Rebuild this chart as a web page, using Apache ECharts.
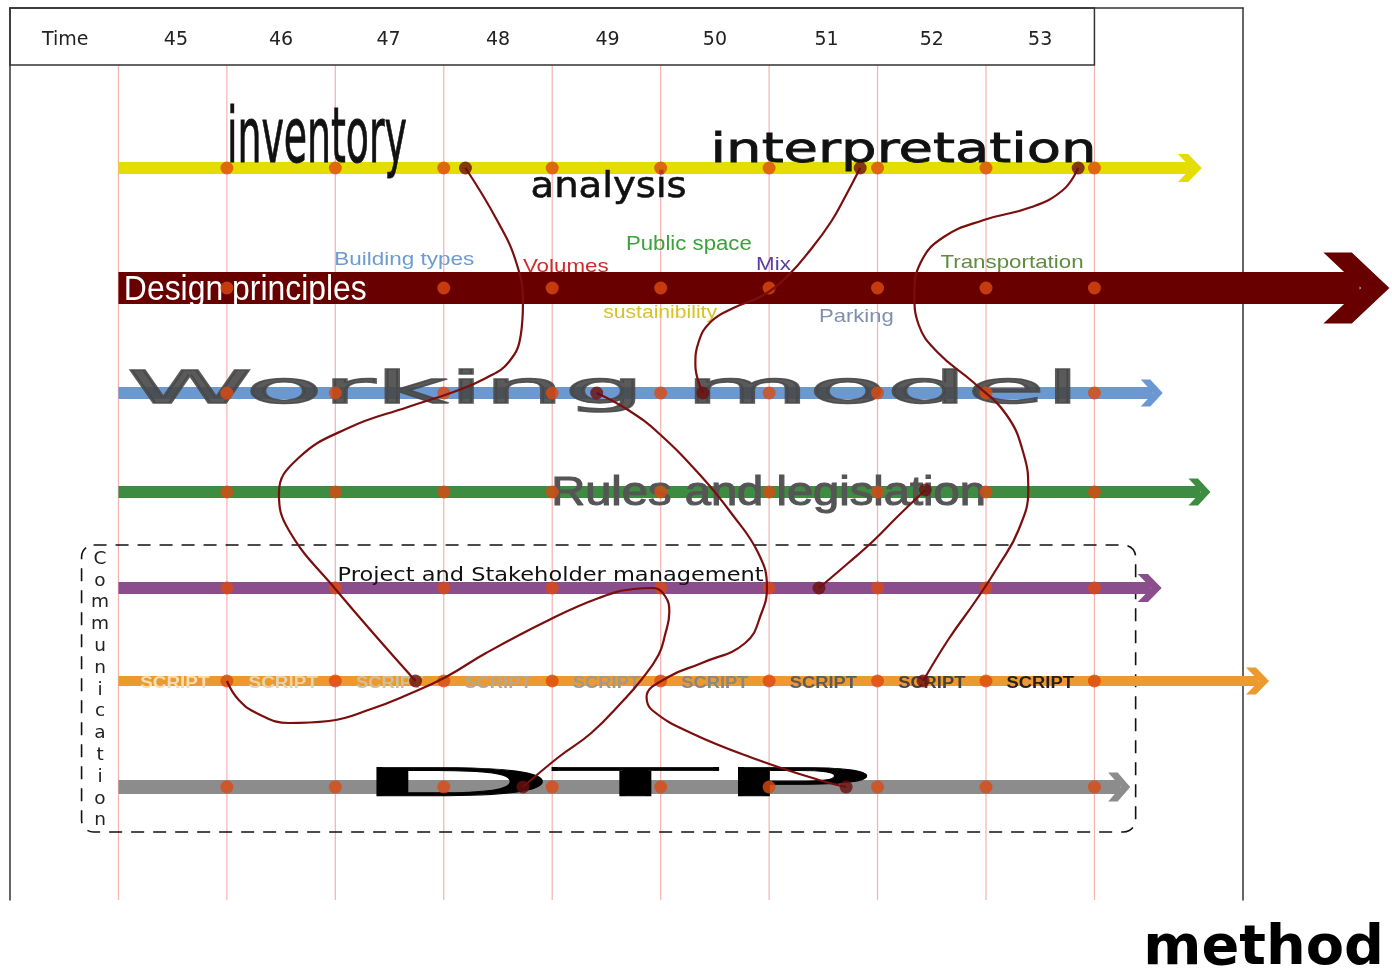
<!DOCTYPE html>
<html>
<head>
<meta charset="utf-8">
<script src="https://cdn.jsdelivr.net/npm/echarts@6/dist/echarts.min.js"></script>
<style>
  html, body { margin: 0; background: #fff; }
  #chart { width: 1392px; height: 972px; }
</style>
</head>
<body>
<div id="chart"></div>
<script>
  // week boundaries (vertical guide lines) and header labels
  var weekLines = [45, 46, 47, 48, 49, 50, 51, 52, 53, 54];
  var headerLabels = ['Time', '45', '46', '47', '48', '49', '50', '51', '52', '53'];
  var headerAt = [44.51, 45.53, 46.5, 47.49, 48.5, 49.51, 50.5, 51.53, 52.5, 53.5];

  // lanes (tracks), y position and where the arrow tip ends
  var laneNames = ['research', 'Design principles', 'Working model', 'Rules and legislation',
                   'Project and Stakeholder management', 'SCRIPT', 'DTP'];
  var laneY = [168, 288, 393, 492, 588, 681, 787];
  var laneStart = [45, 45, 45, 45, 45, 45, 45];
  var laneTip = [54.99, 56.72, 54.63, 55.07, 54.62, 55.61, 54.33];

  // milestone dots on each lane (week boundaries)
  var laneDots = [
    [46, 47, 48, 49, 50, 51, 52, 53, 54],
    [46, 48, 49, 50, 51, 52, 53, 54],
    [46, 47, 48, 49, 50, 51, 52, 53, 54],
    [46, 47, 48, 49, 50, 51, 52, 53, 54],
    [46, 47, 48, 49, 50, 51, 52, 53, 54],
    [46, 47, 48, 49, 50, 51, 52, 53, 54],
    [46, 47, 48, 49, 50, 51, 52, 53, 54]
  ];

  // end points of the links between lanes
  var linkDots = [[48.20, 168], [51.84, 168], [53.85, 168], [49.41, 393], [50.39, 393],
                  [52.44, 490], [51.46, 588], [47.74, 681], [52.42, 681], [48.73, 787], [51.71, 787]];

  // hand drawn links
  var linkA = [[48.20, 168], [48.49, 220], [48.67, 263], [48.73, 303], [48.71, 335], [48.60, 362],
               [48.39, 378], [48.09, 392], [47.67, 407], [47.12, 428], [46.66, 458], [46.48, 493],
               [46.57, 530], [47.00, 589], [47.74, 681]];
  var linkB = [[48.73, 787], [49.06, 757], [49.36, 733], [49.66, 700], [49.82, 680], [49.98, 655],
               [50.04, 635], [50.08, 612], [50.04, 596], [49.93, 588], [49.75, 589], [49.43, 598],
               [48.97, 620], [48.39, 653], [48.02, 677], [47.66, 695], [47.33, 709], [46.94, 721],
               [46.57, 723], [46.29, 714], [46.11, 700], [46.00, 681]];
  var linkC = [[49.41, 393], [49.70, 410], [49.98, 433], [50.38, 477], [50.65, 513], [50.90, 553],
               [50.98, 587], [50.93, 613], [50.78, 643], [50.38, 663], [50.07, 677], [49.87, 697],
               [49.92, 710], [50.28, 733], [50.90, 760], [51.46, 780], [51.71, 787]];
  var linkD = [[51.84, 168], [51.71, 195], [51.57, 222], [51.38, 250], [51.18, 275], [50.95, 295],
               [50.67, 308], [50.46, 322], [50.35, 342], [50.32, 365], [50.39, 393]];
  var linkE = [[53.85, 168], [53.71, 190], [53.42, 207], [52.98, 220], [52.61, 237], [52.40, 262],
               [52.34, 295], [52.38, 325], [52.56, 353], [52.88, 382], [53.19, 415], [53.35, 455],
               [53.39, 490], [53.30, 530], [53.12, 565], [52.91, 600], [52.65, 640], [52.42, 681]];
  var linkF = [[51.46, 588], [51.73, 563], [51.96, 541], [52.19, 516], [52.44, 490]];
  var links = [linkA, linkB, linkC, linkD, linkE, linkF];

  // texts stretched between two x values, sitting on a baseline
  var textLabels = ['inventory', 'analysis', 'interpretation', 'Design principles', 'Working model',
    'Rules and legislation', 'Building types', 'Volumes', 'Public space', 'Mix', 'Transportation',
    'sustainibility', 'Parking', 'Project and Stakeholder management',
    'SCRIPT', 'SCRIPT', 'SCRIPT', 'SCRIPT', 'SCRIPT', 'SCRIPT', 'SCRIPT', 'SCRIPT', 'SCRIPT',
    'DTP', 'method'];
  var textFrom = [46.00, 48.80, 50.46, 45.05, 45.08, 48.99, 46.99, 48.73, 49.68, 50.88, 52.58,
    49.47, 51.46, 47.02, 45.20, 46.20, 47.19, 48.19, 49.19, 50.19, 51.19, 52.19, 53.19, 47.17, 54.45];
  var textTo = [47.66, 50.24, 54.02, 47.29, 53.87, 53.00, 48.28, 49.52, 50.84, 51.20, 53.90,
    50.52, 52.15, 50.95, 45.84, 46.84, 47.81, 48.81, 49.81, 50.81, 51.81, 52.81, 53.81, 51.96, 56.67];
  var textBase = [164, 198, 163, 300, 404, 506, 265, 272, 250, 270, 268,
    318, 322, 582, 688, 688, 688, 688, 688, 688, 688, 688, 688, 797, 966];

  var sideLabel = 'Communication';
  var sideAt = [44.83, 548];

  // ---- styles ----
  var SANS = "'DejaVu Sans', sans-serif";
  var COND = "'DejaVu Sans Condensed', 'DejaVu Sans', sans-serif";
  var ARIAL = "'Liberation Sans', Arial, sans-serif";
  var scriptColors = ['#f4dfb2', '#e4d5aa', '#cdc19d', '#b4a98f', '#a09988', '#8b867e', '#5f5b56', '#45413d', '#221f1c'];
  var textStyle = [
    {size: 76, family: COND, color: '#111', stroke: 0.8},
    {size: 36, family: SANS, color: '#111', stroke: 0.6},
    {size: 41, family: SANS, color: '#111', stroke: 0.8},
    {size: 35, family: ARIAL, color: '#fff'},
    {size: 45, family: SANS, color: '#484848', opacity: 0.9, stroke: 1.4},
    {size: 41, family: ARIAL, color: '#555', stroke: 1.1},
    {size: 19, family: ARIAL, color: '#6c9bd0'},
    {size: 19, family: ARIAL, color: '#d02a2a'},
    {size: 20, family: ARIAL, color: '#3ca03c'},
    {size: 19, family: ARIAL, color: '#5a3e9e'},
    {size: 19, family: ARIAL, color: '#5f8c40'},
    {size: 18, family: ARIAL, color: '#d8c22a'},
    {size: 19, family: ARIAL, color: '#8090ac'},
    {size: 20, family: SANS, color: '#111'}
  ];
  scriptColors.forEach(function (c) {
    textStyle.push({size: 16, family: ARIAL, weight: 'bold', color: c});
  });
  textStyle.push({size: 39, family: SANS, color: '#000', stroke: 0.9});
  textStyle.push({size: 55, family: SANS, weight: 'bold', color: '#000'});

  var laneStyle = [
    {color: '#e4de00', width: 12, aw: 24, ah: 28},
    {color: '#690000', width: 32, aw: 66, ah: 71},
    {color: '#6b98d0', width: 12, aw: 22, ah: 27},
    {color: '#3e8b42', width: 12, aw: 22, ah: 27},
    {color: '#8b4e8c', width: 12, aw: 24, ah: 28},
    {color: '#ec9a30', width: 10, aw: 23, ah: 27},
    {color: '#8c8c8c', width: 14, aw: 22, ah: 29}
  ];

  var measureCtx = document.createElement('canvas').getContext('2d');
  function measure(text, font) {
    measureCtx.font = font;
    return measureCtx.measureText(text).width;
  }

  var chart = echarts.init(document.getElementById('chart'));

  function renderWeekLine(params, api) {
    var a = api.coord([api.value(0), 65]);
    var b = api.coord([api.value(0), 900]);
    return {
      type: 'line',
      shape: {x1: a[0], y1: a[1], x2: b[0], y2: b[1]},
      style: {stroke: 'rgba(238,100,100,0.5)', lineWidth: 1.2}
    };
  }

  function renderLane(params, api) {
    var i = api.value(3);
    var st = laneStyle[i];
    var p0 = api.coord([api.value(0), api.value(2)]);
    var tip = api.coord([api.value(1), api.value(2)]);
    var y = p0[1], W = st.aw, H = st.ah, back = tip[0] - W, n = 0.43;
    return {
      type: 'group',
      children: [
        {type: 'rect', shape: {x: p0[0], y: y - st.width / 2, width: back + W * 0.55 - p0[0], height: st.width},
          style: {fill: st.color}},
        {type: 'polygon', shape: {points: [[back, y - H / 2], [back + W * n, y - H / 2], [tip[0], y],
          [back + W * n, y + H / 2], [back, y + H / 2], [back + W * (1 - n), y]]}, style: {fill: st.color}}
      ]
    };
  }

  function renderText(params, api) {
    var i = api.value(3);
    var st = textStyle[i];
    var a = api.coord([api.value(0), api.value(2)]);
    var b = api.coord([api.value(1), api.value(2)]);
    var font = (st.weight || 'normal') + ' ' + st.size + 'px ' + st.family;
    var w = measure(textLabels[i], font);
    var style = {text: textLabels[i], font: font, fill: st.color, opacity: st.opacity || 1,
      align: 'left', verticalAlign: 'middle'};
    if (st.stroke) {
      style.stroke = st.color;
      style.lineWidth = st.stroke;
    }
    return {
      type: 'text',
      x: a[0],
      y: a[1] - st.size * 0.29,
      scaleX: (b[0] - a[0]) / w,
      style: style
    };
  }

  function renderHeader(params, api) {
    var p = api.coord([api.value(0), 40]);
    return {
      type: 'text', x: p[0], y: p[1],
      style: {text: headerLabels[api.value(1)], font: '19px ' + SANS, fill: '#222',
        align: 'center', verticalAlign: 'middle'}
    };
  }

  function renderSide(params, api) {
    var p = api.coord([api.value(0), api.value(1)]);
    return {
      type: 'text', x: p[0], y: p[1],
      style: {text: sideLabel.split('').join('\n'), font: '18.5px ' + SANS, fill: '#222',
        lineHeight: 21.8, align: 'center', verticalAlign: 'top'}
    };
  }

  function renderFrame(params, api) {
    var a = api.coord([api.value(0), api.value(1)]);
    var b = api.coord([api.value(2), api.value(3)]);
    var dashed = api.value(4) === 1;
    return {
      type: 'rect',
      shape: {x: a[0], y: a[1], width: b[0] - a[0], height: b[1] - a[1], r: dashed ? 12 : 0},
      style: dashed
        ? {fill: 'none', stroke: '#111', lineWidth: 1.6, lineDash: [13, 9]}
        : {fill: 'none', stroke: '#333', lineWidth: 1.5}
    };
  }

  var laneDotData = [];
  laneDots.forEach(function (weeks, i) {
    weeks.forEach(function (w) { laneDotData.push([w, laneY[i]]); });
  });

  var series = [
    {type: 'custom', name: 'weeks', z: 1, renderItem: renderWeekLine,
      data: weekLines.map(function (w) { return [w]; }), encode: {x: 0}},
    {type: 'custom', name: 'frames', z: 2, renderItem: renderFrame,
      data: [[44, 8, 54, 65, 0], [44.66, 545, 54.38, 832, 1]], encode: {x: [0, 2], y: [1, 3]}},
    {type: 'custom', name: 'lanes', z: 3, renderItem: renderLane,
      data: laneNames.map(function (n, i) { return [laneStart[i], laneTip[i], laneY[i], i]; }),
      encode: {x: [0, 1], y: 2}},
    {type: 'custom', name: 'texts', z: 4, renderItem: renderText,
      data: textLabels.map(function (t, i) { return [textFrom[i], textTo[i], textBase[i], i]; }),
      encode: {x: [0, 1], y: 2}},
    {type: 'custom', name: 'header', z: 4, renderItem: renderHeader,
      data: headerAt.map(function (x, i) { return [x, i]; }), encode: {x: 0}},
    {type: 'custom', name: 'side', z: 4, renderItem: renderSide,
      data: [sideAt], encode: {x: 0, y: 1}},
    {type: 'scatter', name: 'milestones', z: 5, symbolSize: 13,
      itemStyle: {color: '#dc4a12'}, data: laneDotData}
  ];
  links.forEach(function (pts, k) {
    series.push({type: 'line', name: 'link' + k, z: 6, data: pts, smooth: 0.45, showSymbol: false,
      clip: false, lineStyle: {color: '#7b0f0f', width: 2.2}});
  });
  series.push({type: 'scatter', name: 'ends', z: 7, symbolSize: 13,
    itemStyle: {color: '#6b0f0f'}, data: linkDots});

  var option = {
    animation: false,
    grid: {left: 10, top: 8, width: 1233, height: 892},
    xAxis: {type: 'value', min: 44, max: 55.37, position: 'top',
      axisLine: {show: true, onZero: false, lineStyle: {color: '#333', width: 1.5}},
      axisTick: {show: false}, axisLabel: {show: false}, splitLine: {show: false}},
    yAxis: [
      {type: 'value', min: 8, max: 900, inverse: true, position: 'left',
        axisLine: {show: true, onZero: false, lineStyle: {color: '#333', width: 1.5}},
        axisTick: {show: false}, axisLabel: {show: false}, splitLine: {show: false}},
      {type: 'value', min: 8, max: 900, inverse: true, position: 'right',
        axisLine: {show: true, onZero: false, lineStyle: {color: '#333', width: 1.5}},
        axisTick: {show: false}, axisLabel: {show: false}, splitLine: {show: false}}
    ],
    series: series
  };
  option && chart.setOption(option);
</script>
</body>
</html>
